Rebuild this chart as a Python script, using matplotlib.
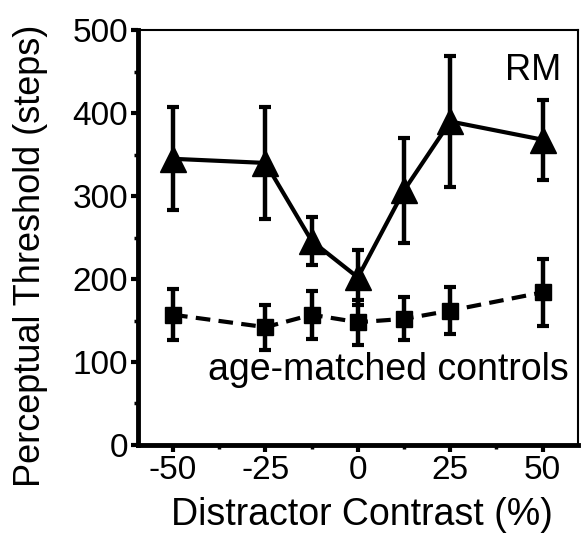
import matplotlib
matplotlib.use("Agg")
import matplotlib.pyplot as plt
from matplotlib.ticker import MultipleLocator

# distractor contrast (%)
contrast = [-50, -25, -12.5, 0, 12.5, 25, 50]

# RM patient
rm_mean = [345, 340, 246, 202, 307, 390, 368]
rm_err = [62, 68, 29, 33, 63, 79, 48]

# age-matched controls
ctrl_mean = [157, 142, 157, 148, 152, 162, 184]
ctrl_err = [31, 27, 29, 27, 26, 28, 40]

xticks = [-50, -25, 0, 25, 50]
yticks = [0, 100, 200, 300, 400, 500]

plt.rcParams['font.family'] = ['Liberation Sans', 'DejaVu Sans']
plt.rcParams['axes.unicode_minus'] = False

fig = plt.figure(figsize=(5.81, 5.40), dpi=100)
ax = fig.add_axes([0.2375, 0.176, 0.757, 0.768])

ax.errorbar(contrast, rm_mean, yerr=rm_err, color='black', lw=3,
            marker='^', markersize=19, elinewidth=3.2, capsize=4, capthick=3)
ax.errorbar(contrast, ctrl_mean, yerr=ctrl_err, color='black', lw=3,
            ls=(0, (3.5, 2)), marker='s', markersize=12, elinewidth=3.2,
            capsize=4, capthick=3)

ax.text(55, 452, 'RM', fontsize=26, ha='right', va='center')
ax.text(57, 90, 'age-matched controls', fontsize=27, ha='right', va='center')

ax.set_xlim(-59.5, 59.5)
ax.set_ylim(0, 500)
ax.set_xticks(xticks)
ax.set_yticks(yticks)
ax.xaxis.set_minor_locator(MultipleLocator(12.5))
ax.yaxis.set_minor_locator(MultipleLocator(50))

for side in ['left', 'bottom']:
    ax.spines[side].set_linewidth(3.5)
for side in ['top', 'right']:
    ax.spines[side].set_linewidth(1.5)

ax.tick_params(which='major', direction='out', length=5, width=3,
               labelsize=24, pad=2)
ax.tick_params(which='minor', direction='out', length=3, width=2.5)

ax.set_xlabel('Distractor Contrast (%)', fontsize=27)
ax.set_ylabel('Perceptual Threshold (steps)', fontsize=26)
ax.xaxis.set_label_coords(0.51, -0.125)
ax.yaxis.set_label_coords(-0.205, 0.455)

fig.savefig('out.png', dpi=100)
